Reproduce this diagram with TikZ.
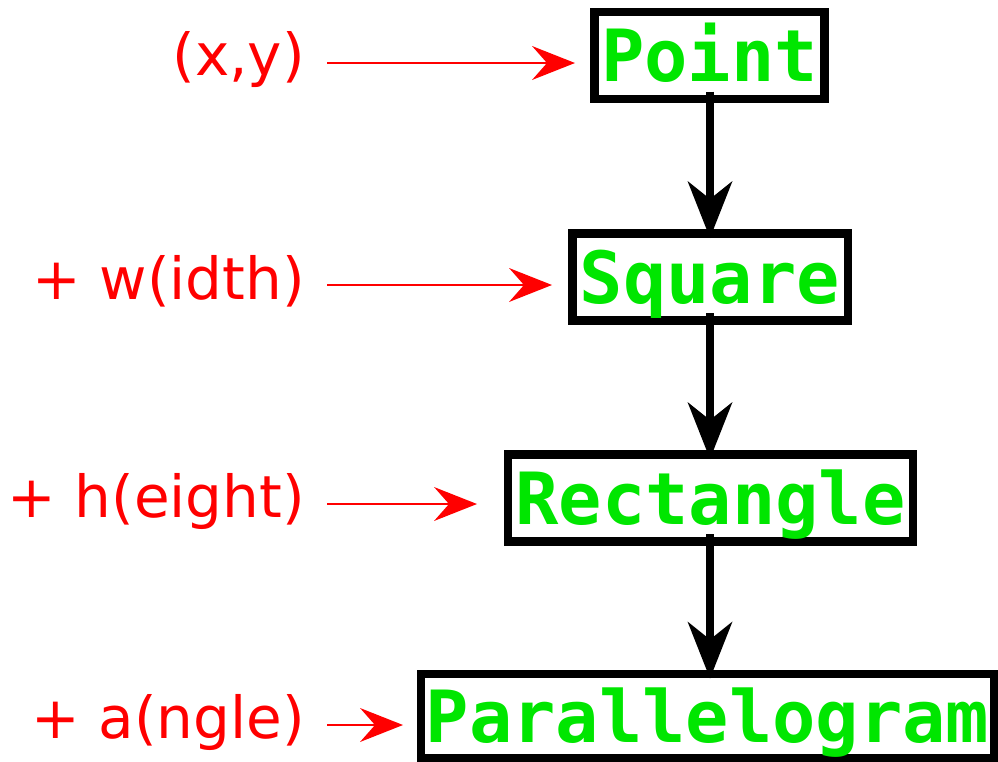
\documentclass[tikz,border=0pt]{standalone}
\usepackage{fontspec}
\setmainfont{DejaVu Sans}
\newfontfamily\boxfont{DejaVu Sans Mono}
\newfontfamily\labfont{DejaVu Sans}
\usetikzlibrary{arrows.meta}
\definecolor{boxgreen}{RGB}{0,230,0}
\definecolor{labred}{RGB}{255,0,0}
\tikzset{
  shapebox/.style={draw=black, line width=8.5pt, fill=white, inner sep=0pt, outer sep=0pt,
    minimum height=87pt, text height=52pt, text depth=0pt,
    font=\boxfont\bfseries\fontsize{72}{72}\selectfont, text=boxgreen},
  lab/.style={anchor=base east, inner sep=0pt, text=labred,
    font=\labfont\fontsize{58}{58}\selectfont},
  flow/.style={draw=black, line width=8pt,
    -{Stealth[length=57pt,width=45pt,inset=18pt,line width=0pt]}},
  feed/.style={draw=labred, line width=2.7pt,
    -{Stealth[length=43pt,width=34pt,inset=15pt,line width=0pt]}},
}
\begin{document}
\begin{tikzpicture}[x=1pt,y=-1pt]
\useasboundingbox (0,0) rectangle (998,761);
% boxes
\node[shapebox, minimum width=230pt] (point) at (709.5,55.5) {Point};
\node[shapebox, minimum width=275.5pt] (square) at (710,277) {Square};
\node[shapebox, minimum width=405pt] (rect) at (710.5,498) {Rectangle};
\node[shapebox, minimum width=573pt, minimum height=84pt] (para) at (707.5,716) {Parallelogram};
% labels
\node[lab] (l1) at (305,75) {(x,y)};
\node[lab] (l2) at (305,299) {+ w(idth)};
\node[lab] (l3) at (305,517.5) {+ h(eight)};
\node[lab] (l4) at (305,738) {+ a(ngle)};
% red arrow ends
\coordinate (s1) at (327,63);   \coordinate (e1) at (575,63);
\coordinate (s2) at (327,285);  \coordinate (e2) at (552,285);
\coordinate (s3) at (327,504);  \coordinate (e3) at (477,504);
\coordinate (s4) at (327,725);  \coordinate (e4) at (403,725);
\draw[feed] (s1) -- (e1);
\draw[feed] (s2) -- (e2);
\draw[feed] (s3) -- (e3);
\draw[feed] (s4) -- (e4);
% flow arrows (vertical)
\draw[flow] ([yshift=7.5pt]square.south |- point.south) -- ([yshift=-4.5pt]square.north);
\draw[flow] ([yshift=7.5pt]square.south) -- ([yshift=-4.5pt]square.south |- rect.north);
\draw[flow] ([yshift=7.5pt]square.south |- rect.south) -- ([yshift=-4.5pt]square.south |- para.north);
\end{tikzpicture}
\end{document}
